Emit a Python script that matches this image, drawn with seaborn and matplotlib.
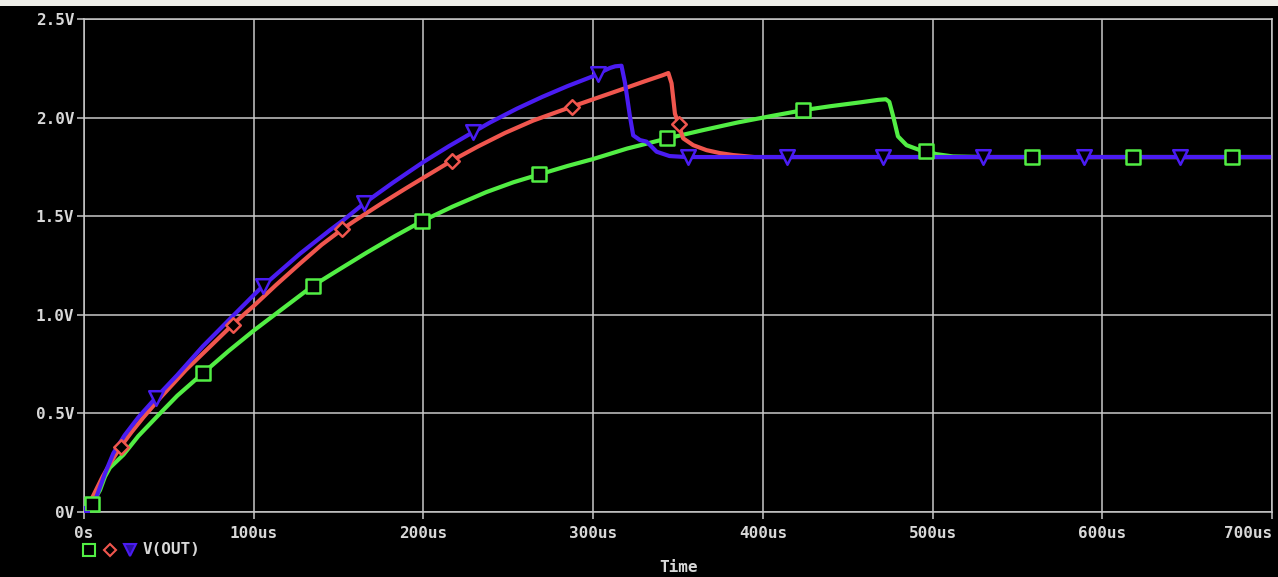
import matplotlib
matplotlib.use("Agg")
import matplotlib.pyplot as plt
from matplotlib.lines import Line2D
from matplotlib.patches import Rectangle
import seaborn as sns
import pandas as pd

# traces (time in us, volts)
green_t = [0, 2, 4.7, 9.4, 12.4, 15.3, 23.2, 32, 44.8, 55, 70, 85, 100, 111.5, 135, 150, 166.5,
           183, 199, 217, 237, 253, 268.3, 285, 300, 320, 344, 365, 385, 405, 424, 440, 458,
           468, 472.5, 474.5, 476.8, 479.6, 484.7, 492.5, 496, 502, 512, 530, 560, 600, 650, 700]
green_v = [0, 0.015, 0.04, 0.11, 0.18, 0.225, 0.29, 0.385, 0.50, 0.59, 0.703, 0.815, 0.92, 0.995,
           1.148, 1.228, 1.315, 1.398, 1.474, 1.548, 1.622, 1.672, 1.712, 1.755, 1.79, 1.843,
           1.895, 1.937, 1.975, 2.008, 2.038, 2.058, 2.078, 2.09, 2.093, 2.08, 2.006, 1.905,
           1.86, 1.835, 1.831, 1.815, 1.803, 1.80, 1.80, 1.80, 1.80, 1.80]

red_t = [0, 3, 7, 11, 16, 21.6, 28, 35, 45, 60, 75, 87.6, 95.3, 100, 113, 127.3, 140, 152.2,
         159.7, 175, 190, 200, 216.6, 232, 248, 264.7, 287.3, 300, 315.8, 330, 341, 344.3,
         346.2, 348.2, 350.3, 353, 359, 366.8, 374.7, 382.5, 395, 450, 550, 700]
red_v = [0, 0.04, 0.11, 0.18, 0.255, 0.331, 0.405, 0.48, 0.58, 0.72, 0.845, 0.95, 1.01, 1.045,
         1.15, 1.26, 1.355, 1.434, 1.478, 1.563, 1.643, 1.695, 1.781, 1.853, 1.922, 1.985, 2.055,
         2.093, 2.14, 2.183, 2.215, 2.226, 2.174, 2.02, 1.968, 1.895, 1.86, 1.835, 1.82, 1.81,
         1.80, 1.80, 1.80, 1.80]

blue_t = [0, 3, 7.4, 12.4, 17.3, 24, 32, 42.4, 55, 70, 88.4, 100, 105.3, 127.3, 145, 152.8, 165,
          182, 200, 215, 229, 239.2, 255, 270, 285, 300, 305, 310, 313, 316.7, 318.8, 321.7,
          323.6, 327.6, 331.5, 337.4, 345, 355, 450, 550, 700]
blue_v = [0, 0.03, 0.078, 0.196, 0.298, 0.39, 0.48, 0.58, 0.695, 0.84, 1.0, 1.10, 1.145, 1.31,
          1.43, 1.48, 1.565, 1.67, 1.775, 1.855, 1.925, 1.975, 2.045, 2.105, 2.16, 2.21, 2.232,
          2.252, 2.26, 2.263, 2.175, 2.005, 1.91, 1.886, 1.878, 1.827, 1.805, 1.80, 1.80,
          1.80, 1.80]

# trace symbols
green_mk_t = [4.7, 70, 135, 199, 268.3, 343.7, 423.8, 496, 558.5, 618, 676.4]
green_mk_v = [0.04, 0.703, 1.148, 1.474, 1.712, 1.895, 2.038, 1.831, 1.80, 1.80, 1.80]
red_mk_t = [21.6, 87.6, 152.2, 216.6, 287.3, 350.3]
red_mk_v = [0.331, 0.95, 1.434, 1.781, 2.055, 1.968]
blue_mk_t = [42.4, 105.3, 165, 229, 302.7, 356, 414, 471, 530, 589, 646]
blue_mk_v = [0.58, 1.145, 1.565, 1.925, 2.222, 1.80, 1.80, 1.80, 1.80, 1.80, 1.80]

x_ticks = [0, 100, 200, 300, 400, 500, 600, 700]
x_labels = ["0s", "100us", "200us", "300us", "400us", "500us", "600us", "700us"]
y_ticks = [0, 0.5, 1.0, 1.5, 2.0, 2.5]
y_labels = ["0V", "0.5V", "1.0V", "1.5V", "2.0V", "2.5V"]

GREEN = "#52ee44"
RED = "#f0564e"
BLUE = "#4a1cf2"
GRID = "#c8c8c8"
TXT = "#d8d8d8"

sns.set_style("dark")
plt.rcParams["font.family"] = ["DejaVu Sans Mono", "DejaVu Sans"]

fig = plt.figure(figsize=(12.78, 5.77), dpi=100, facecolor="black")
ax = fig.add_axes([84 / 1278, 65 / 577, 1188 / 1278, 493 / 577])
ax.set_facecolor("black")

traces = [(green_t, green_v, GREEN), (red_t, red_v, RED), (blue_t, blue_v, BLUE)]
for t, v, c in traces:
    df = pd.DataFrame({"t": t, "v": v})
    sns.lineplot(data=df, x="t", y="v", color=c, lw=3.0, sort=False, estimator=None, ax=ax)

marks = [(green_mk_t, green_mk_v, GREEN, "s", 95),
         (red_mk_t, red_mk_v, RED, "D", 55),
         (blue_mk_t, blue_mk_v, BLUE, "v", 110)]
for t, v, c, m, s in marks:
    dm = pd.DataFrame({"t": t, "v": v})
    sns.scatterplot(data=dm, x="t", y="v", marker=m, s=s, facecolor="black",
                    edgecolor=c, linewidth=1.8, ax=ax, zorder=5)
ax.plot([0], [0], marker="+", color=BLUE, ms=9, mew=1.5, zorder=6)

ax.set_xlim(0, 700)
ax.set_ylim(0, 2.5)
ax.set_xticks(x_ticks)
ax.set_xticklabels(x_labels)
ax.set_yticks(y_ticks)
ax.set_yticklabels(y_labels)
ax.set_xlabel("")
ax.set_ylabel("")
ax.grid(True, color=GRID, lw=1.1)
ax.set_axisbelow(True)
for sp in ax.spines.values():
    sp.set_visible(True)
    sp.set_color(GRID)
    sp.set_linewidth(1.1)
ax.tick_params(axis="both", colors=GRID, labelcolor=TXT, direction="out",
               length=5, width=1.1, labelsize=11.5)
ax.tick_params(axis="x", pad=5, bottom=True)
ax.tick_params(axis="y", pad=2, left=True)
for lab in ax.get_xticklabels() + ax.get_yticklabels():
    lab.set_fontweight("bold")
ax.get_xticklabels()[-1].set_horizontalalignment("right")

# legend row under the plot
ly = 27 / 577
fig.add_artist(Line2D([89 / 1278], [ly], marker="s", ms=8, mfc="none", mec=GREEN, mew=1.5,
                      transform=fig.transFigure))
fig.add_artist(Line2D([110 / 1278], [ly], marker="D", ms=6, mfc="none", mec=RED, mew=1.5,
                      transform=fig.transFigure))
fig.add_artist(Line2D([130 / 1278], [ly], marker="v", ms=8, mfc="#2a10a0", mec=BLUE, mew=1.5,
                      transform=fig.transFigure))
fig.text(143 / 1278, ly, "V(OUT)", color=TXT, fontsize=11.5, fontweight="bold", va="center")
fig.text(678 / 1278, 9 / 577, "Time", color=TXT, fontsize=11.5, fontweight="bold",
         ha="center", va="center")

# light strip along the top edge
fig.patches.append(Rectangle((0, 1 - 6 / 577), 1, 6 / 577, transform=fig.transFigure,
                             facecolor="#eeeee8", edgecolor="none", zorder=10))

fig.savefig("out.png", dpi=100, facecolor="black")
